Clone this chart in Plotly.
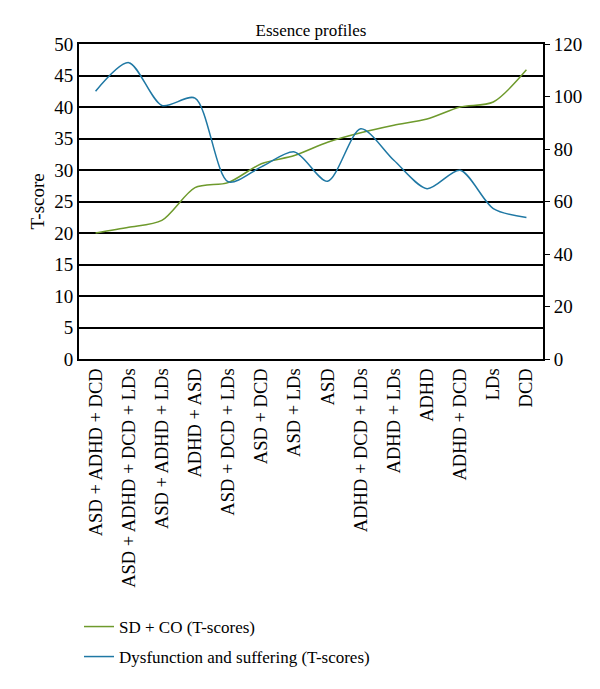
import plotly.graph_objects as go

categories = ["ASD + ADHD + DCD", "ASD + ADHD + DCD + LDs", "ASD + ADHD + LDs",
              "ADHD + ASD", "ASD + DCD + LDs", "ASD + DCD", "ASD + LDs", "ASD",
              "ADHD + DCD + LDs", "ADHD + LDs", "ADHD", "ADHD + DCD", "LDs", "DCD"]
sd_co = [20.0, 20.9, 22.0, 27.2, 28.0, 31.0, 32.3, 34.4, 35.9, 37.1, 38.1, 40.0, 40.8, 45.9]
dysfunction = [102.0, 112.9, 96.6, 99.4, 67.5, 73.2, 78.9, 67.7, 87.7, 75.7, 64.9, 71.9, 57.3, 53.9]

font_family = "Liberation Serif"
green = "#6e9a2c"
blue = "#1f78a4"

PW, PH = 464, 315

fig = go.Figure()
fig.add_trace(go.Scatter(x=categories, y=sd_co, mode="lines", name="SD + CO (T-scores)",
                         line=dict(color=green, width=1.5, shape="spline", smoothing=0.8),
                         yaxis="y", legend="legend", showlegend=True))
fig.add_trace(go.Scatter(x=categories, y=dysfunction, mode="lines",
                         name="Dysfunction and suffering (T-scores)",
                         line=dict(color=blue, width=1.5, shape="spline", smoothing=0.8),
                         yaxis="y2", legend="legend2", showlegend=True))

fig.update_layout(
    width=600, height=689,
    margin=dict(l=71, r=65, t=36, b=338, autoexpand=False),
    showlegend=True,
    paper_bgcolor="white", plot_bgcolor="white",
    font=dict(family=font_family, size=18, color="black"),
    title=dict(text="Essence profiles", x=0.5, xref="paper", xanchor="center",
               y=1 - 22/689, yanchor="middle", font=dict(size=17, family=font_family)),
    xaxis=dict(type="category", range=[-0.5, 13.5], tickangle=-90, automargin=False,
               showline=True, linecolor="black", linewidth=2, mirror=True,
               ticks="", showgrid=False, tickfont=dict(size=18.5)),
    yaxis=dict(range=[0, 50], dtick=5, showgrid=True, gridcolor="black", gridwidth=1.5,
               showline=True, linecolor="black", linewidth=2, ticks="", automargin=False,
               zeroline=False, tickfont=dict(size=19)),
    yaxis2=dict(range=[0, 120], dtick=20, overlaying="y", side="right", showgrid=False,
                showline=True, linecolor="black", linewidth=2, ticks="outside", automargin=False,
                ticklen=5, tickcolor="black", zeroline=False, tickfont=dict(size=19)),
    annotations=[dict(text="T-score", textangle=-90, xref="paper", yref="paper",
                      x=(37-79)/PW, y=0.5, xanchor="center", yanchor="middle",
                      showarrow=False, font=dict(size=19, family=font_family))],
    legend=dict(x=0.0, xanchor="left", y=(359-627)/PH, yanchor="middle",
                font=dict(size=17, family=font_family), bgcolor="rgba(0,0,0,0)",
                itemwidth=30),
    legend2=dict(x=0.0, xanchor="left", y=(359-657)/PH, yanchor="middle",
                 font=dict(size=17, family=font_family), bgcolor="rgba(0,0,0,0)",
                 itemwidth=30),
)

fig.write_html("out.html")
